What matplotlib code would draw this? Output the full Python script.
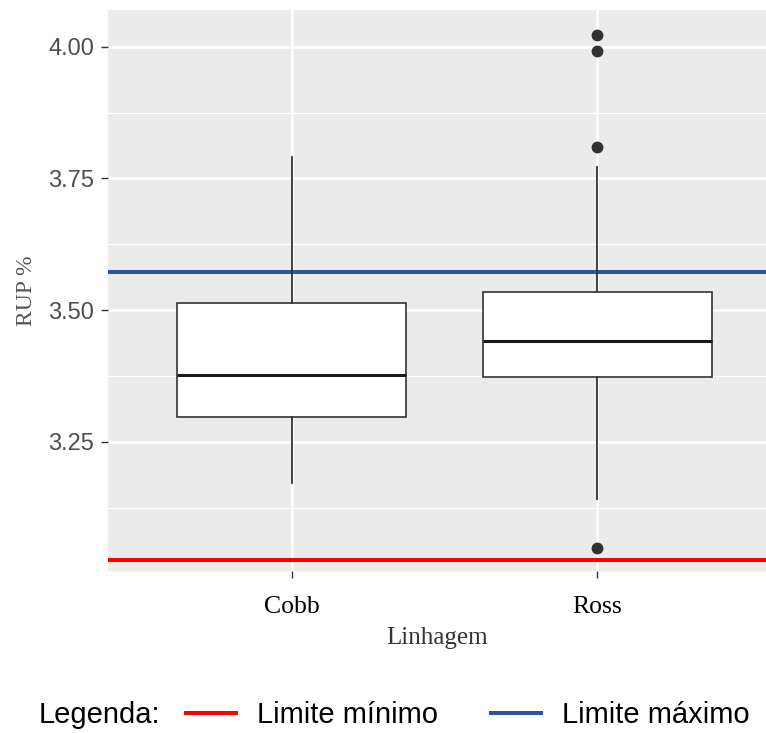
import matplotlib.pyplot as plt
from matplotlib.ticker import FixedLocator

# boxplot stats (RUP %)
linhagens = ['Cobb', 'Ross']
whisk_lo = [3.172, 3.142]
q1 = [3.297, 3.372]
medians = [3.377, 3.442]
q3 = [3.514, 3.534]
whisk_hi = [3.790, 3.772]
outliers = [[], [4.022, 3.991, 3.810, 3.048]]

limite_min = 3.025
limite_max = 3.573

y_ticks = [3.25, 3.50, 3.75, 4.00]
y_minor = [3.125, 3.375, 3.625, 3.875]

fig = plt.figure(figsize=(7.66, 7.33), dpi=100)
ax = fig.add_axes([108.3 / 766, 1 - 571 / 733, 1 - 108.3 / 766, (571 - 10) / 733])
ax.set_facecolor('#EBEBEB')

stats = []
for i, name in enumerate(linhagens):
    stats.append(dict(label=name, whislo=whisk_lo[i], q1=q1[i], med=medians[i],
                      q3=q3[i], whishi=whisk_hi[i], fliers=outliers[i]))

ax.bxp(stats, positions=[1, 2], widths=0.75, showcaps=False, patch_artist=True,
       boxprops=dict(facecolor='white', edgecolor='#333333', linewidth=1.2),
       whiskerprops=dict(color='#333333', linewidth=1.3),
       medianprops=dict(color='#1A1A1A', linewidth=2.2),
       flierprops=dict(marker='o', markerfacecolor='#333333', markeredgecolor='#333333',
                       markersize=7.5),
       zorder=3)

l_min = ax.axhline(limite_min, color='#FF0000', lw=2.9, zorder=2, label='Limite mínimo')
l_max = ax.axhline(limite_max, color='#2F5597', lw=2.9, zorder=2, label='Limite máximo')

ax.set_xlim(0.4, 0.4 + (766 - 108.3) / 305.6)
ax.set_ylim(3.0045, 4.0697)

ax.set_yticks(y_ticks)
ax.set_yticklabels([f'{v:.2f}' for v in y_ticks], family='Liberation Sans',
                   fontsize=17, color='#4D4D4D')
ax.yaxis.set_minor_locator(FixedLocator(y_minor))
ax.set_xticks([1, 2])
ax.set_xticklabels(linhagens, family='Liberation Serif', fontsize=18.5, color='black')

ax.tick_params(axis='both', which='major', length=5, width=1, color='#333333')
ax.tick_params(axis='y', which='minor', length=0)
ax.tick_params(axis='x', pad=13)
ax.tick_params(axis='y', pad=5)

ax.grid(True, which='major', color='white', lw=1.8, zorder=0)
ax.grid(True, which='minor', axis='y', color='white', lw=1.0, zorder=0)
ax.set_axisbelow(True)
for s in ax.spines.values():
    s.set_visible(False)

ax.set_xlabel('Linhagem', family='Liberation Serif', fontsize=18, color='#333333', labelpad=6.5)
ax.set_ylabel('RUP %', family='Liberation Serif', fontsize=17, color='#555555', labelpad=8)

# legend row at the bottom
fig.text(39 / 766, 1 - 715 / 733, 'Legenda:', family='Liberation Sans', fontsize=21,
         va='center', ha='left', color='black')
fig.legend(handles=[l_min, l_max], loc='center left', bbox_to_anchor=(186 / 766, 1 - 715 / 733),
           ncol=2, frameon=False, prop=dict(family='Liberation Sans', size=21),
           handlelength=1.72, handletextpad=0.72, columnspacing=1.8,
           borderpad=0, borderaxespad=0)

fig.savefig('out.png', dpi=100)
